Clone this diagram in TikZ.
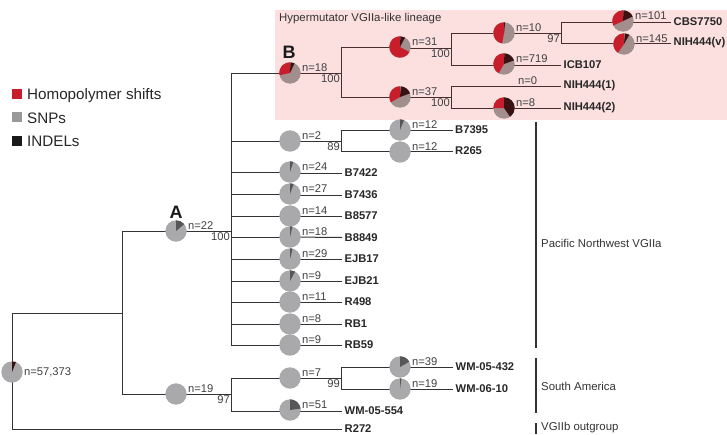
\documentclass[tikz,border=0pt]{standalone}
\usepackage{fontspec}
\setmainfont{Liberation Sans}
\definecolor{treeline}{HTML}{333333}
\definecolor{hyperline}{HTML}{4A2E2E}
\definecolor{hyperbox}{HTML}{FCE0E0}
\definecolor{shiftred}{HTML}{C81E2C}
\definecolor{snpgray}{HTML}{A9A9AB}
\definecolor{snpdark}{HTML}{565658}
\definecolor{hypergray}{HTML}{A38E8E}
\definecolor{hyperdark}{HTML}{3A1212}
\pgfdeclarelayer{box}
\pgfdeclarelayer{edges}
\pgfsetlayers{box,edges,main}
\tikzset{
  piebase/.style={circle,inner sep=0pt,minimum size=21.4pt},
  plainpie/.style={piebase,fill=snpgray},
  hyperpie/.style={piebase,fill=hypergray},
  count/.style={anchor=south west,inner sep=1pt,font=\fontsize{11.2}{11}\selectfont,text=black!75},
  support/.style={anchor=north east,inner sep=1pt,font=\fontsize{11.2}{11}\selectfont,text=black!75},
  leaf/.style={anchor=west,inner sep=2.5pt,font=\fontsize{11.2}{11}\selectfont\bfseries,text=black!85},
  group/.style={anchor=west,inner sep=0pt,font=\fontsize{11.4}{11}\selectfont,text=black!80},
  clade/.style={inner sep=0pt,font=\fontsize{18}{18}\selectfont\bfseries,text=black!90},
  key/.style={anchor=base west,inner sep=0pt,font=\fontsize{15.2}{15}\selectfont,text=black!85},
  keybox/.style={inner sep=0pt,minimum size=10pt},
  bar/.style={line width=2pt,treeline},
  tree/.style={line width=1pt,treeline},
  hypertree/.style={line width=1pt,hyperline}
}
% piecut {node}{from}{to}{colour}, angles clockwise from the top
\newcommand{\piecut}[4]{\fill[#4] (#1.center) -- ++(90-#2:10.7pt) arc[start angle=90-#2,end angle=90-#3,radius=10.7pt] -- cycle;}
% grey tree: {name}{x}{y}{dark angle}
\newcommand{\greypie}[4]{\node[plainpie] (#1) at (#2,#3) {}; \piecut{#1}{0}{#4}{snpdark}}
% hypermutator: {name}{x}{y}{dark from}{dark to}{red from}
\newcommand{\redpie}[6]{\node[hyperpie] (#1) at (#2,#3) {}; \piecut{#1}{#6}{360}{shiftred} \piecut{#1}{#4}{#5}{hyperdark}}
\begin{document}
\begin{tikzpicture}[x=1pt,y=-1pt]
  \useasboundingbox (0,0) rectangle (727,434);
  \begin{pgfonlayer}{box}
    \fill[hyperbox] (275,10) rectangle (727,120);
  \end{pgfonlayer}

  % key
  \node[keybox,fill=shiftred] (keyred) at (17,93.5) {};
  \node[keybox,fill=black!40] (keysnp) at (17,117) {};
  \node[keybox,fill=black!90] (keyindel) at (17,141) {};
  \node[key] (keyredtext) at (27,99) {Homopolymer shifts};
  \node[key] (keysnptext) at (27,123) {SNPs};
  \node[key] (keyindeltext) at (27,146) {INDELs};

  % internal nodes
  \greypie{root}{12}{372}{0}
  \piecut{root}{0}{22}{hyperdark}
  \greypie{a}{176}{231}{50}
  \node[plainpie] (c) at (176,394) {};
  \redpie{b}{290}{73}{3}{25}{258}
  \redpie{n31}{400}{47}{2}{28}{118}
  \redpie{n37}{400}{97}{5}{70}{240}
  \redpie{n10}{504}{33}{0}{6}{190}
  \redpie{n719}{504}{64}{2}{70}{210}
  \redpie{n8}{504}{108}{0}{145}{270}
  \redpie{n101}{623}{21}{3}{65}{245}
  \redpie{n145}{624}{44}{5}{30}{215}
  \node[plainpie] (n2) at (290,141) {};
  \greypie{n12a}{400}{130}{22}
  \node[plainpie] (n12b) at (400,152) {};
  \greypie{n24}{290}{172}{18}
  \greypie{n27}{290}{194}{20}
  \node[plainpie] (n14) at (290,216) {};
  \greypie{n18}{290}{237}{13}
  \greypie{n29}{290}{259}{14}
  \greypie{n9a}{290}{281}{28}
  \node[plainpie] (n11) at (290,302) {};
  \node[plainpie] (n8b) at (290,324) {};
  \node[plainpie] (n9b) at (290,345) {};
  \node[plainpie] (n7) at (290,378) {};
  \greypie{n39}{400}{367}{60}
  \greypie{n19}{400}{389}{8}
  \greypie{n51}{290}{410}{82}

  % leaves
  \node[leaf] (cbs) at (671,22) {CBS7750};
  \node[leaf] (nihv) at (671,43) {NIH444(v)};
  \node[leaf] (icb) at (561,65) {ICB107};
  \node[leaf] (nih1) at (561,86) {NIH444(1)};
  \node[leaf] (nih2) at (561,108) {NIH444(2)};
  \node[leaf] (b7395) at (452.5,130) {B7395};
  \node[leaf] (r265) at (452.5,151) {R265};
  \node[leaf] (b7422) at (342,173) {B7422};
  \node[leaf] (b7436) at (342,195) {B7436};
  \node[leaf] (b8577) at (342,216) {B8577};
  \node[leaf] (b8849) at (342,237.5) {B8849};
  \node[leaf] (ejb17) at (342,259) {EJB17};
  \node[leaf] (ejb21) at (342,281) {EJB21};
  \node[leaf] (r498) at (342,302) {R498};
  \node[leaf] (rb1) at (342,324) {RB1};
  \node[leaf] (rb59) at (342,345) {RB59};
  \node[leaf] (wm432) at (453,367) {WM-05-432};
  \node[leaf] (wm610) at (453,389) {WM-06-10};
  \node[leaf] (wm554) at (342,411) {WM-05-554};
  \node[leaf] (r272) at (342,429) {R272};

  % forks
  \coordinate (splitroot) at (122,313);
  \coordinate (splita) at (231,231);
  \coordinate (splitc) at (231,394);
  \coordinate (splitb) at (341,73);
  \coordinate (split31) at (451,48);
  \coordinate (split37) at (451,97);
  \coordinate (split10) at (561,33);
  \coordinate (split2) at (341,141);
  \coordinate (splitn7) at (341,378);

  \begin{pgfonlayer}{edges}
    \begin{scope}[tree]
      \draw (root.center) |- (r272.west);
      \draw (root.center) |- (splitroot);
      \draw (a.center) -| (splitroot);
      \draw (c.center) -| (splitroot);
      \draw (a.center) -- (splita);
      \draw (c.center) -- (splitc);
      \foreach \kid in {b,n2,n24,n27,n14,n18,n29,n9a,n11,n8b,n9b}
        \draw (splita) |- (\kid.center);
      \draw (splitc) |- (n7.center);
      \draw (splitc) |- (wm554.west);
      \draw (n2.center) -- (split2);
      \draw (split2) |- (b7395.west);
      \draw (split2) |- (r265.west);
      \draw (n7.center) -- (splitn7);
      \draw (splitn7) |- (wm432.west);
      \draw (splitn7) |- (wm610.west);
      \draw (n24.center) |- (b7422.west);
      \draw (n27.center) |- (b7436.west);
      \draw (n14.center) -- (b8577.west);
      \draw (n18.center) -- (b8849.west);
      \draw (n29.center) -- (ejb17.west);
      \draw (n9a.center) -- (ejb21.west);
      \draw (n11.center) -- (r498.west);
      \draw (n8b.center) -- (rb1.west);
      \draw (n9b.center) -- (rb59.west);
      \draw (n51.center) |- (wm554.west);
    \end{scope}
    \begin{scope}[hypertree]
      \draw (b.center) -- (splitb);
      \draw (splitb) |- (n31.center);
      \draw (splitb) |- (n37.center);
      \draw (n31.center |- split31) -- (split31);
      \draw (n37.center) -- (split37);
      \draw (split31) |- (n10.center);
      \draw (split31) |- (icb.west);
      \draw (split37) |- (nih1.west);
      \draw (split37) |- (nih2.west);
      \draw (n10.center) -- (split10);
      \draw (split10) |- (cbs.west);
      \draw (split10) |- (nihv.west);
    \end{scope}
  \end{pgfonlayer}

  % counts
  \node[count,anchor=west] at (root.east) {n=57,373};
  \node[count] at (a.east) {n=22};
  \node[count] at (c.east) {n=19};
  \node[count] at (b.east) {n=18};
  \node[count] at (n31.east) {n=31};
  \node[count] at (n37.east) {n=37};
  \node[count] at (n10.east) {n=10};
  \node[count] at (n719.east) {n=719};
  \node[count] at (517,86) {n=0};
  \node[count] at (n8.east) {n=8};
  \node[count] at (n101.east) {n=101};
  \node[count] at (n145.east) {n=145};
  \node[count] at (n2.east) {n=2};
  \node[count] at (n12a.east) {n=12};
  \node[count] at (n12b.east) {n=12};
  \node[count] at (n24.east) {n=24};
  \node[count] at (n27.east) {n=27};
  \node[count] at (n14.east) {n=14};
  \node[count] at (n18.east) {n=18};
  \node[count] at (n29.east) {n=29};
  \node[count] at (n9a.east) {n=9};
  \node[count] at (n11.east) {n=11};
  \node[count] at (n8b.east) {n=8};
  \node[count] at (n9b.east) {n=9};
  \node[count] at (n7.east) {n=7};
  \node[count] at (n39.east) {n=39};
  \node[count] at (n19.east) {n=19};
  \node[count] at (n51.east) {n=51};

  % bootstrap values
  \node[support] at (splita) {100};
  \node[support] at (splitc) {97};
  \node[support] at (splitb) {100};
  \node[support] at (split31) {100};
  \node[support] at (split37) {100};
  \node[support] at (split10) {97};
  \node[support] at (split2) {89};
  \node[support] at (splitn7) {99};

  \node[clade] (cladea) at (176,212) {A};
  \node[clade] (cladeb) at (289,52) {B};

  % groups
  \node[group] (hyper) at (279,19) {Hypermutator VGIIa-like lineage};
  \node[group] (pacific) at (541,243) {Pacific Northwest VGIIa};
  \node[group] (south) at (541,386) {South America};
  \node[group] (outgroup) at (541,428) {VGIIb outgroup};
  \draw[bar] (535.5,122) -- (535.5,348);
  \draw[bar] (535.5,358) -- (535.5,413);
  \draw[bar] (535.5,423) -- (535.5,434);
\end{tikzpicture}
\end{document}
